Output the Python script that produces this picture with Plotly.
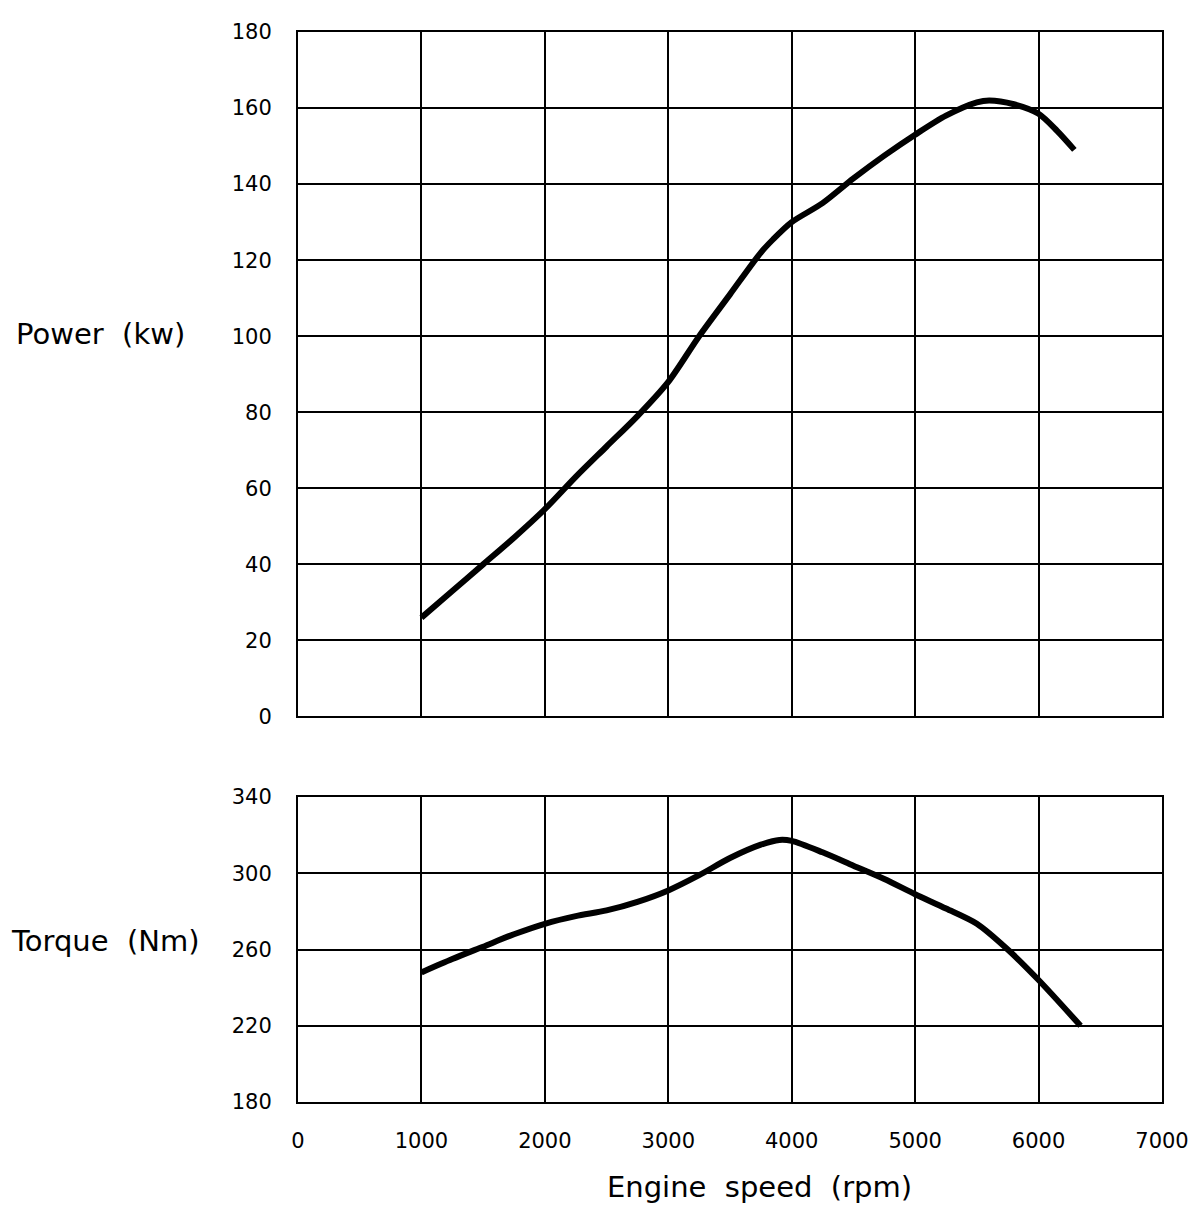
import plotly.graph_objects as go

# Power curve (top panel)
power_rpm = [1000, 1250, 1500, 1750, 2000, 2250, 2500, 2750, 3000, 3250, 3500, 3750, 3850, 4000,
             4250, 4500, 4750, 5000, 5250, 5500, 5600, 5800, 6000, 6150, 6290]
power_kw = [26, 33, 40, 47, 54.5, 63, 71, 79, 88, 100, 111, 122, 125.5, 130,
            135, 141.5, 147.5, 153, 158, 161.5, 162, 161, 158.5, 154, 149]

# Torque curve (bottom panel)
torque_rpm = [1000, 1250, 1500, 1750, 2000, 2250, 2500, 2750, 3000, 3250, 3500, 3750, 3900, 4000,
              4250, 4500, 4750, 5000, 5250, 5500, 5750, 6000, 6340]
torque_nm = [248, 255, 261.5, 268, 273.5, 277.5, 280.5, 285, 291, 299, 308, 315, 317.5, 317,
             311, 304, 297, 289, 281.5, 273.5, 260, 244, 220]

x_ticks = [0, 1000, 2000, 3000, 4000, 5000, 6000, 7000]
power_ticks = [0, 20, 40, 60, 80, 100, 120, 140, 160, 180]
torque_ticks = [180, 220, 260, 300, 340]

FONT = "DejaVu Sans"
NB = "\u00a0"

fig = go.Figure()
fig.add_trace(go.Scatter(x=power_rpm, y=power_kw, mode="lines", xaxis="x", yaxis="y",
                         line=dict(color="black", width=6, shape="spline", smoothing=0.8),
                         showlegend=False, hoverinfo="skip"))
fig.add_trace(go.Scatter(x=torque_rpm, y=torque_nm, mode="lines", xaxis="x2", yaxis="y2",
                         line=dict(color="black", width=6, shape="spline", smoothing=0.8),
                         showlegend=False, hoverinfo="skip"))

axis_common = dict(showline=True, linecolor="black", linewidth=2, mirror=True,
                   showgrid=True, gridcolor="black", gridwidth=1.6, zeroline=False,
                   ticks="", tickfont=dict(family=FONT, size=21, color="black"))

fig.update_layout(
    width=1194, height=1198,
    margin=dict(l=290, r=40, t=17, b=104),
    paper_bgcolor="white", plot_bgcolor="white",
    xaxis=dict(axis_common, range=[0, 7000], tickvals=x_ticks, showticklabels=False,
               anchor="y", domain=[0, 1]),
    yaxis=dict(axis_common, range=[0, 180], tickvals=power_ticks, domain=[0.3603, 1.0],
               anchor="x", ticklabelstandoff=20),
    xaxis2=dict(axis_common, range=[0, 7000], tickvals=x_ticks, anchor="y2", domain=[0, 1],
                ticklabelstandoff=19),
    yaxis2=dict(axis_common, range=[180, 340], tickvals=torque_ticks, domain=[0.0, 0.285],
                anchor="x2", ticklabelstandoff=20),
    annotations=[
        dict(text="Power" + NB * 2 + "(kw)", xref="paper", yref="paper", x=-0.329, y=0.7177,
             xanchor="left", yanchor="middle", showarrow=False,
             font=dict(family=FONT, size=29, color="black")),
        dict(text="Torque" + NB * 2 + "(Nm)", xref="paper", yref="paper", x=-0.3345, y=0.1504,
             xanchor="left", yanchor="middle", showarrow=False,
             font=dict(family=FONT, size=29, color="black")),
        dict(text="Engine" + NB * 2 + "speed" + NB * 2 + "(rpm)", xref="paper", yref="paper",
             x=0.5347, y=-0.0799, xanchor="center", yanchor="middle", showarrow=False,
             font=dict(family=FONT, size=29, color="black")),
    ],
)

fig.write_html("out.html")
